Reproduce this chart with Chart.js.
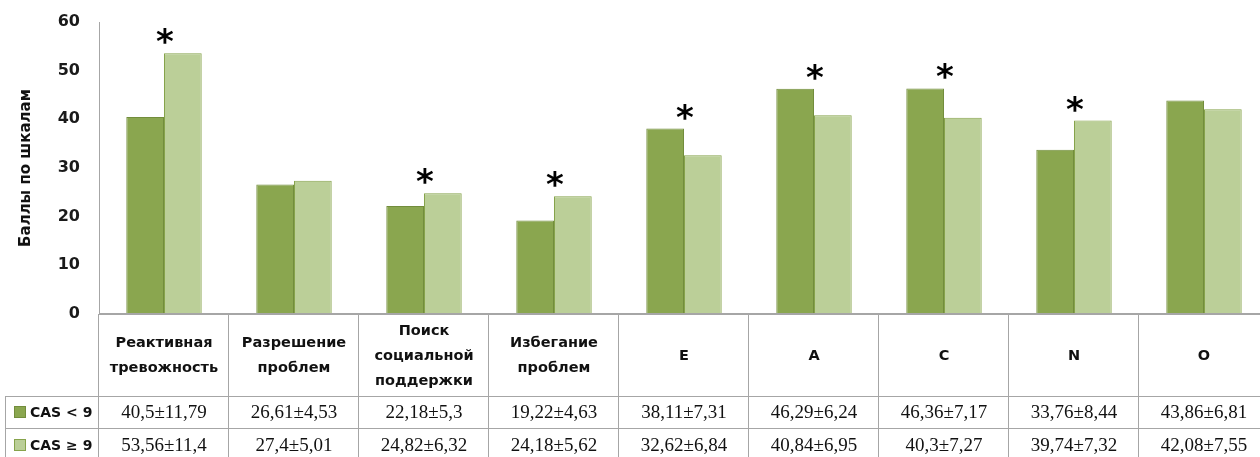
<!DOCTYPE html>
<html lang="ru">
<head>
<meta charset="utf-8">
<title>Баллы по шкалам</title>
<script src="https://cdn.jsdelivr.net/npm/chart.js@4.4.1/dist/chart.umd.min.js"></script>
<style>
  html, body { margin: 0; padding: 0; background: #fff; overflow: hidden; }
  #wrap { position: relative; width: 1275px; height: 457px; }
</style>
</head>
<body>
<div id="wrap"><canvas id="chart"></canvas></div>
<script>
// Scale names (header row of the table); each entry is a list of lines
const scaleNames = [
  ['Реактивная', 'тревожность'],
  ['Разрешение', 'проблем'],
  ['Поиск', 'социальной', 'поддержки'],
  ['Избегание', 'проблем'],
  ['E'],
  ['A'],
  ['C'],
  ['N'],
  ['O']
];

// Group CAS < 9: means and standard deviations
const casLow = [40.5, 26.61, 22.18, 19.22, 38.11, 46.29, 46.36, 33.76, 43.86];
const casLowSd = [11.79, 4.53, 5.3, 4.63, 7.31, 6.24, 7.17, 8.44, 6.81];

// Group CAS ≥ 9: means and standard deviations
const casHigh = [53.56, 27.4, 24.82, 24.18, 32.62, 40.84, 40.3, 39.74, 42.08];
const casHighSd = [11.4, 5.01, 6.32, 5.62, 6.84, 6.95, 7.27, 7.32, 7.55];

// Scales with a significant difference between the groups (marked with *)
const significant = [true, false, true, true, true, true, true, true, false];

const groupNames = ['CAS < 9', 'CAS \u2265 9'];
const yTicks = [0, 10, 20, 30, 40, 50, 60];

const DARK = '#8aa64f', DARK_EDGE = '#728d3c';
const LIGHT = '#bbcf98', LIGHT_EDGE = '#86a34b';
const LINE = '#a6a6a6';
const SANS = '"DejaVu Sans", Verdana, sans-serif';
const SERIF = '"Liberation Serif", "Times New Roman", serif';

const fmt = v => String(v).replace('.', ',');

// Data table under the plot plus the significance stars above the bars
const tablePlugin = {
  id: 'dataTable',
  afterDatasetsDraw(chart) {
    const ctx = chart.ctx;
    const x = chart.scales.x, y = chart.scales.y;
    const area = chart.chartArea;
    const n = scaleNames.length;
    const cw = (area.right - area.left) / n;
    const top = area.bottom;
    const headBottom = top + 82;
    const row1Bottom = headBottom + 32;
    const bottom = chart.height;
    const leftEdge = 5;

    ctx.save();

    // stars
    ctx.fillStyle = '#000';
    ctx.font = 'bold 34px ' + SANS;
    ctx.textAlign = 'center';
    ctx.textBaseline = 'alphabetic';
    const m = ctx.measureText('*');
    const starShift = (m.actualBoundingBoxAscent - m.actualBoundingBoxDescent) / 2;
    significant.forEach((s, i) => {
      if (!s) return;
      const topVal = Math.max(casLow[i], casHigh[i]);
      const cy = y.getPixelForValue(topVal) - 17;
      ctx.fillText('*', x.getPixelForValue(i) + 1, cy + starShift);
    });

    // grid lines of the table
    ctx.strokeStyle = LINE;
    ctx.lineWidth = 1;
    ctx.beginPath();
    ctx.moveTo(leftEdge, headBottom + 0.5); ctx.lineTo(area.right, headBottom + 0.5);
    ctx.moveTo(leftEdge, row1Bottom + 0.5); ctx.lineTo(area.right, row1Bottom + 0.5);
    ctx.moveTo(leftEdge + 0.5, headBottom); ctx.lineTo(leftEdge + 0.5, bottom);
    for (let i = 0; i <= n; i++) {
      const xx = Math.round(area.left + cw * i) - 0.5;
      ctx.moveTo(xx, top); ctx.lineTo(xx, bottom);
    }
    ctx.stroke();
    ctx.lineWidth = 2;
    ctx.beginPath();
    ctx.moveTo(area.left, top); ctx.lineTo(area.right, top);
    ctx.stroke();

    // header row
    ctx.fillStyle = '#111';
    ctx.font = 'bold 14.5px ' + SANS;
    ctx.textBaseline = 'middle';
    const headMid = (top + headBottom) / 2 + 1;
    const lh = 25;
    scaleNames.forEach((lines, i) => {
      const cx = x.getPixelForValue(i);
      const y0 = headMid - (lines.length - 1) * lh / 2;
      lines.forEach((t, k) => ctx.fillText(t, cx, y0 + k * lh));
    });

    // value rows
    const rows = [
      { mean: casLow, sd: casLowSd, fill: DARK, edge: DARK_EDGE, mid: (headBottom + row1Bottom) / 2 },
      { mean: casHigh, sd: casHighSd, fill: LIGHT, edge: LIGHT_EDGE, mid: row1Bottom + 17 }
    ];
    rows.forEach((r, ri) => {
      ctx.font = '19px ' + SERIF;
      ctx.fillStyle = '#111';
      ctx.textAlign = 'center';
      r.mean.forEach((v, i) => {
        ctx.fillText(fmt(v) + '\u00b1' + fmt(r.sd[i]), x.getPixelForValue(i), r.mid + 1);
      });
      // legend key
      ctx.fillStyle = r.fill;
      ctx.fillRect(14, Math.round(r.mid - 6), 12, 12);
      ctx.strokeStyle = r.edge;
      ctx.lineWidth = 1;
      ctx.strokeRect(14.5, Math.round(r.mid - 6) + 0.5, 11, 11);
      ctx.fillStyle = '#111';
      ctx.font = 'bold 14px ' + SANS;
      ctx.textAlign = 'left';
      ctx.fillText(groupNames[ri], 30, r.mid + 1);
    });

    ctx.restore();
  }
};

new Chart(document.getElementById('chart'), {
  type: 'bar',
  data: {
    labels: scaleNames,
    datasets: [
      { label: groupNames[0], data: casLow, backgroundColor: DARK, borderColor: DARK_EDGE, borderWidth: 1 },
      { label: groupNames[1], data: casHigh, backgroundColor: LIGHT, borderColor: LIGHT_EDGE, borderWidth: 1 }
    ]
  },
  options: {
    responsive: true,
    maintainAspectRatio: false,
    animation: false,
    layout: { padding: { left: 0, top: 22, right: 6, bottom: 143 } },
    datasets: { bar: { categoryPercentage: 0.58, barPercentage: 1 } },
    plugins: { legend: { display: false }, tooltip: { enabled: false } },
    scales: {
      x: { display: false },
      y: {
        min: yTicks[0],
        max: yTicks[yTicks.length - 1],
        afterBuildTicks: s => { s.ticks = yTicks.map(v => ({ value: v })); },
        afterFit: s => { s.width = 99; s.paddingTop = 0; s.paddingBottom = 0; },
        grid: { display: false, drawTicks: false },
        border: { display: true, color: LINE, width: 1 },
        ticks: { color: '#1a1a1a', font: { family: SANS, size: 16, weight: 'bold' }, padding: 19 },
        title: {
          display: true,
          text: 'Баллы по шкалам',
          color: '#111',
          font: { family: SANS, size: 15, weight: 'bold' },
          padding: { top: 17, bottom: 0 }
        }
      }
    }
  },
  plugins: [tablePlugin]
});
</script>
</body>
</html>
